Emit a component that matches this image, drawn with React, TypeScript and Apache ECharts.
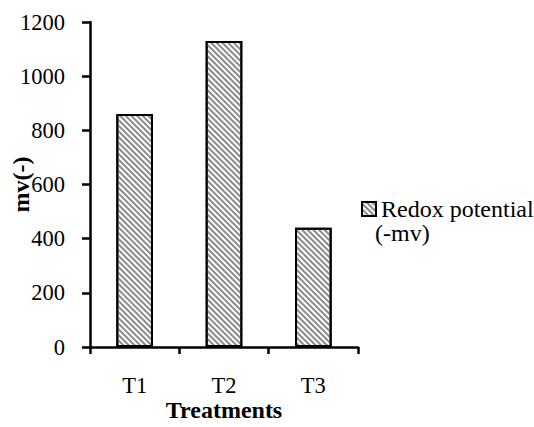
import React, { useEffect, useRef } from "react";
import * as echarts from "echarts";

const categories = ["T1", "T2", "T3"];
const redoxValues = [860, 1130, 440];
const seriesName = "Redox potential (-mv)";
const legendLines = ["Redox potential", "(-mv)"];
const yMin = 0;
const yMax = 1200;
const yInterval = 200;

export default function App() {
  const ref = useRef<HTMLDivElement>(null);
  useEffect(() => {
    if (!ref.current) return;
    const chart = echarts.init(ref.current, null, { renderer: "svg" });
    const font = "Liberation Serif";
    const tickFs = 22.5;
    const nameFs = 24;
    chart.setOption({
      animation: false,
      backgroundColor: "#ffffff",
      aria: { enabled: true, decal: { show: true } },
      textStyle: { fontFamily: font, fontSize: tickFs },
      grid: {
        left: 90,
        right: 176,
        top: 22,
        bottom: 80,
        containLabel: false,
        outerBoundsMode: "none",
      },
      legend: {
        show: true,
        orient: "vertical",
        left: 356,
        top: 192,
        icon: "rect",
        itemWidth: 14,
        itemHeight: 14,
        itemGap: 5,
        formatter: () => legendLines[0],
        itemStyle: { borderColor: "#000", borderWidth: 2 },
        textStyle: { fontFamily: font, fontSize: nameFs, color: "#000" },
        data: [seriesName],
      },
      graphic: [
        {
          type: "text",
          left: 375,
          top: 221,
          style: { text: legendLines[1], fontFamily: font, fontSize: nameFs, fill: "#000" },
        },
      ],
      xAxis: {
        type: "category",
        data: categories,
        name: "Treatments",
        nameLocation: "middle",
        nameGap: 51,
        nameMoveOverlap: false,
        nameTextStyle: { fontFamily: font, fontSize: nameFs, fontWeight: "bold", color: "#000" },
        axisLine: { show: true, lineStyle: { color: "#000", width: 2.5 } },
        axisTick: { show: true, length: 7, lineStyle: { color: "#000", width: 2.5 } },
        axisLabel: { fontFamily: font, fontSize: tickFs, color: "#000", margin: 27 },
        splitLine: { show: false },
      },
      yAxis: {
        type: "value",
        min: yMin,
        max: yMax,
        interval: yInterval,
        name: "mv(-)",
        nameLocation: "middle",
        nameGap: 57,
        nameMoveOverlap: false,
        nameTextStyle: { fontFamily: font, fontSize: nameFs, fontWeight: "bold", color: "#000" },
        axisLine: { show: true, lineStyle: { color: "#000", width: 2.5 } },
        axisTick: { show: true, length: 8, lineStyle: { color: "#000", width: 2.5 } },
        axisLabel: {
          fontFamily: font,
          fontSize: tickFs,
          color: "#000",
          margin: 25,
          formatter: (v: number) => String(v),
        },
        splitLine: { show: false },
      },
      series: [
        {
          name: seriesName,
          type: "bar",
          data: redoxValues,
          barWidth: "41%",
          itemStyle: {
            color: "#ffffff",
            borderColor: "#000",
            borderWidth: 2,
            decal: {
              symbol: "rect",
              symbolSize: 1,
              color: "#8a8a8a",
              dashArrayX: [1, 0],
              dashArrayY: [2, 2],
              rotation: Math.PI / 4,
            },
          },
        },
      ],
    });
    return () => chart.dispose();
  }, []);
  return (
    <div
      ref={ref}
      style={{ position: "fixed", left: 0, top: 0, width: 534, height: 427 }}
    />
  );
}
